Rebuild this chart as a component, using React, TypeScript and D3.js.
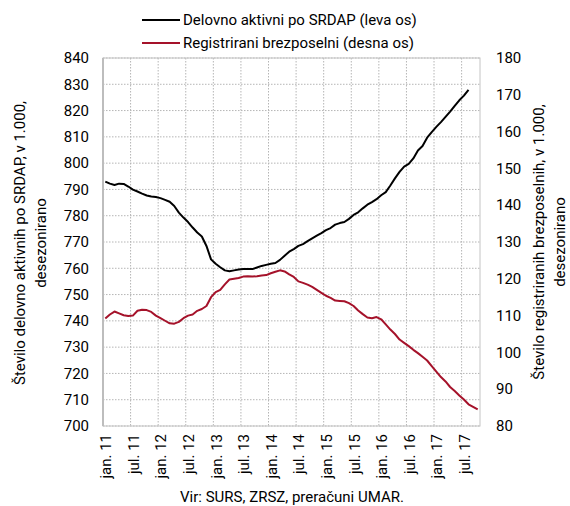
import React from 'react';
import * as d3 from 'd3';

// Delovno aktivni po SRDAP (v 1.000, desezonirano), jan. 2011 - avg. 2017
const delovnoAktivni = [
  793.0, 792.2, 791.7, 792.2, 792.1, 791.1, 789.9, 789.2, 788.4, 787.7, 787.3, 787.1,
  786.7, 786.0, 785.3, 783.7, 781.2, 779.3, 777.6, 775.5, 773.6, 772.1, 768.5, 763.4,
  761.7, 760.4, 759.2, 758.9, 759.2, 759.5, 759.7, 759.7, 759.7, 760.3, 760.9, 761.3,
  761.7, 762.0, 763.2, 764.8, 766.3, 767.3, 768.5, 769.2, 770.3, 771.4, 772.4, 773.4,
  774.5, 775.3, 776.6, 777.2, 777.6, 778.8, 780.3, 781.3, 782.8, 784.2, 785.2, 786.3,
  787.8, 789.0, 791.5, 794.2, 796.7, 798.7, 799.7, 801.8, 804.8, 806.5, 809.7, 811.8,
  813.8, 815.6, 817.6, 819.6, 821.8, 823.9, 825.7, 827.9,
];

// Registrirani brezposelni (v 1.000, desezonirano), jan. 2011 - okt. 2017
const brezposelni = [
  109.2, 110.3, 111.1, 110.6, 110.1, 109.9, 110.0, 111.3, 111.6, 111.5, 111.0, 110.0,
  109.3, 108.6, 107.9, 107.8, 108.3, 109.3, 110.0, 110.3, 111.3, 111.8, 112.6, 115.0,
  116.4, 117.0, 118.5, 119.8, 120.0, 120.2, 120.6, 120.7, 120.6, 120.7, 120.9, 121.0,
  121.5, 121.9, 122.3, 122.0, 121.2, 120.5, 119.3, 118.9, 118.4, 117.8, 117.0, 116.2,
  115.4, 114.8, 114.1, 114.0, 113.9, 113.4, 112.6, 111.4, 110.4, 109.5, 109.3, 109.6,
  109.0, 107.6, 106.2, 105.0, 103.5, 102.6, 101.7, 100.7, 99.8, 98.8, 97.8, 96.3,
  94.8, 93.3, 92.1, 90.6, 89.5, 88.3, 87.2, 85.9, 85.2, 84.5,
];

const leftTicks = [700, 710, 720, 730, 740, 750, 760, 770, 780, 790, 800, 810, 820, 830, 840];
const rightTicks = [80, 90, 100, 110, 120, 130, 140, 150, 160, 170, 180];

const leftTitle = ['Število delovno aktivnih po SRDAP, v 1.000,', 'desezonirano'];
const rightTitle = ['Število registriranih brezposelnih, v 1.000,', 'desezonirano'];

// mesečne kategorije jan. 11 - okt. 17
const months: string[] = [];
for (let y = 11; y <= 17; y++) {
  for (let m = 0; m < 12; m++) months.push(`${m}.${y}`);
}
months.length = 82;

const FONT = 'Roboto, "Liberation Sans", sans-serif';
const RED = '#a5122a';

const App = () => {
  const W = 570;
  const H = 506;
  const left = 103, right = 480, top = 58, bottom = 426;

  const x = d3.scaleBand<string>().domain(months).range([left, right]).padding(0);
  const bw = x.bandwidth();
  const cx = (i: number) => (x(months[i]) as number) + bw / 2;
  const yL = d3.scaleLinear().domain([700, 840]).range([bottom, top]);
  const yR = d3.scaleLinear().domain([80, 180]).range([bottom, top]);

  const lineL = d3.line<number>().x((_, i) => cx(i)).y(d => yL(d));
  const lineR = d3.line<number>().x((_, i) => cx(i)).y(d => yR(d));

  const labelIdx = months.map((_, i) => i).filter(i => i % 6 === 0);
  const monthLabel = (i: number) => {
    const [m, y] = months[i].split('.');
    return `${m === '0' ? 'jan.' : 'jul.'} ${y}`;
  };

  return (
    <svg width={W} height={H} style={{ position: 'absolute', left: 0, top: 0, background: '#fff' }}
      fontFamily={FONT}>
      {/* mreža */}
      {leftTicks.map(t => (
        <line key={'h' + t} x1={left} x2={right} y1={yL(t)} y2={yL(t)}
          stroke="#b5b5b5" strokeWidth={1} strokeDasharray="1.5,1.5" />
      ))}
      {labelIdx.filter(i => i > 0).map(i => (
        <line key={'v' + i} x1={x(months[i])} x2={x(months[i])} y1={top} y2={bottom}
          stroke="#b5b5b5" strokeWidth={1} strokeDasharray="1.5,1.5" />
      ))}
      <rect x={left} y={top} width={right - left} height={bottom - top}
        fill="none" stroke="#c4c4c4" strokeWidth={1} />
      <line x1={left} x2={left} y1={top} y2={bottom} stroke="#bdbdbd" strokeWidth={2} />

      {/* črti */}
      <path d={lineR(brezposelni) || ''} fill="none" stroke={RED} strokeWidth={2} strokeLinejoin="round" />
      <path d={lineL(delovnoAktivni) || ''} fill="none" stroke="#000" strokeWidth={2} strokeLinejoin="round" />

      {/* leva os */}
      {leftTicks.map(t => (
        <text key={'l' + t} x={89} y={yL(t)} dy="0.35em" textAnchor="end" fontSize={15}>{t}</text>
      ))}
      {/* desna os */}
      {rightTicks.map(t => (
        <text key={'r' + t} x={496} y={yR(t)} dy="0.35em" textAnchor="start" fontSize={15}>{t}</text>
      ))}

      {/* x os */}
      {labelIdx.map(i => (
        <text key={'x' + i} transform={`translate(${cx(i) + 6},${434}) rotate(-90)`}
          textAnchor="end" fontSize={15}>{monthLabel(i)}</text>
      ))}

      {/* naslovi osi */}
      {leftTitle.map((s, k) => (
        <text key={'lt' + k} transform={`translate(${25 + k * 21},243) rotate(-90)`}
          textAnchor="middle" fontSize={15}>{s}</text>
      ))}
      {rightTitle.map((s, k) => (
        <text key={'rt' + k} transform={`translate(${544 + k * 21},242) rotate(-90)`}
          textAnchor="middle" fontSize={15}>{s}</text>
      ))}

      {/* legenda */}
      <line x1={142} x2={180} y1={20} y2={20} stroke="#000" strokeWidth={2} />
      <text x={183} y={20} dy="0.35em" fontSize={15}>Delovno aktivni po SRDAP (leva os)</text>
      <line x1={142} x2={180} y1={43} y2={43} stroke={RED} strokeWidth={2} />
      <text x={183} y={43} dy="0.35em" fontSize={15}>Registrirani brezposelni (desna os)</text>

      {/* vir */}
      <text x={292} y={502} textAnchor="middle" fontSize={15}>Vir: SURS, ZRSZ, preračuni UMAR.</text>
    </svg>
  );
};

export default App;
